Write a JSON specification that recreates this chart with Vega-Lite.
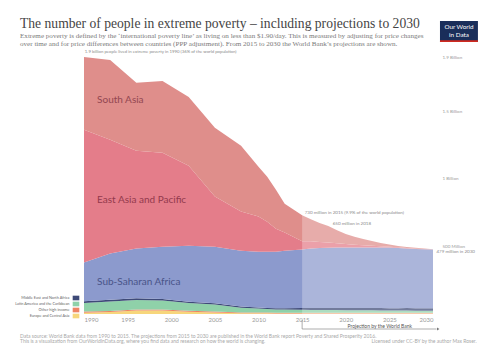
{
  "$schema": "https://vega.github.io/schema/vega-lite/v6.json",
  "autosize": "none",
  "width": 349,
  "height": 257,
  "padding": {"left": 84, "top": 57, "right": 47, "bottom": 46},
  "background": "white",
  "data": {"values": [{}]},
  "title": {
    "text": "The number of people in extreme poverty – including projections to 2030",
    "subtitle": [
      "Extreme poverty is defined by the ‘international poverty line’ as living on less than $1.90/day. This is measured by adjusting for price changes",
      "over time and for price differences between countries (PPP adjustment). From 2015 to 2030 the World Bank’s projections are shown."
    ],
    "anchor": "start",
    "frame": "group",
    "dx": -64,
    "offset": -26,
    "font": "Liberation Serif",
    "fontSize": 13.6,
    "fontWeight": "normal",
    "color": "#444444",
    "subtitleFont": "Liberation Serif",
    "subtitleFontSize": 7.1,
    "subtitleColor": "#7a7a7a",
    "subtitlePadding": 1.5,
    "subtitleLineHeight": 7.6
  },
  "config": {"view": {"stroke": null}},
  "datasets": {
    "poverty": [
      {"year": 1990, "ECA": 10, "OHI": 8, "LAC": 64, "MENA": 13, "SSA": 285, "EAP": 982, "SA": 538},
      {"year": 1993, "ECA": 15, "OHI": 8, "LAC": 69, "MENA": 13, "SSA": 342, "EAP": 841, "SA": 590},
      {"year": 1996, "ECA": 25, "OHI": 8, "LAC": 71, "MENA": 12, "SSA": 368, "EAP": 723, "SA": 502},
      {"year": 1999, "ECA": 25, "OHI": 8, "LAC": 66, "MENA": 11, "SSA": 388, "EAP": 694, "SA": 531},
      {"year": 2002, "ECA": 17, "OHI": 7, "LAC": 57, "MENA": 10, "SSA": 414, "EAP": 591, "SA": 509},
      {"year": 2005, "ECA": 12, "OHI": 7, "LAC": 52, "MENA": 9, "SSA": 418, "EAP": 370, "SA": 509},
      {"year": 2008, "ECA": 6, "OHI": 6, "LAC": 35, "MENA": 8, "SSA": 413, "EAP": 289, "SA": 486},
      {"year": 2010, "ECA": 5, "OHI": 6, "LAC": 30, "MENA": 7, "SSA": 413, "EAP": 259, "SA": 369},
      {"year": 2011, "ECA": 5, "OHI": 6, "LAC": 26, "MENA": 7, "SSA": 417, "EAP": 221, "SA": 332},
      {"year": 2012, "ECA": 4, "OHI": 6, "LAC": 24, "MENA": 8, "SSA": 419, "EAP": 170, "SA": 288},
      {"year": 2013, "ECA": 4, "OHI": 6, "LAC": 23, "MENA": 9, "SSA": 426, "EAP": 134, "SA": 214},
      {"year": 2015, "ECA": 4, "OHI": 6, "LAC": 21, "MENA": 14, "SSA": 431, "EAP": 62, "SA": 192},
      {"year": 2016, "ECA": 4, "OHI": 6, "LAC": 20, "MENA": 14, "SSA": 441, "EAP": 52, "SA": 163},
      {"year": 2017, "ECA": 4, "OHI": 6, "LAC": 20, "MENA": 15, "SSA": 443, "EAP": 44, "SA": 140},
      {"year": 2018, "ECA": 4, "OHI": 6, "LAC": 19, "MENA": 15, "SSA": 446, "EAP": 38, "SA": 122},
      {"year": 2019, "ECA": 4, "OHI": 6, "LAC": 19, "MENA": 16, "SSA": 446, "EAP": 32, "SA": 97},
      {"year": 2020, "ECA": 4, "OHI": 6, "LAC": 18, "MENA": 16, "SSA": 447, "EAP": 26, "SA": 75},
      {"year": 2021, "ECA": 4, "OHI": 6, "LAC": 18, "MENA": 17, "SSA": 446, "EAP": 21, "SA": 60},
      {"year": 2022, "ECA": 4, "OHI": 6, "LAC": 17, "MENA": 17, "SSA": 447, "EAP": 17, "SA": 46},
      {"year": 2023, "ECA": 4, "OHI": 6, "LAC": 17, "MENA": 17, "SSA": 447, "EAP": 13, "SA": 35},
      {"year": 2024, "ECA": 3, "OHI": 6, "LAC": 17, "MENA": 18, "SSA": 447, "EAP": 10, "SA": 24},
      {"year": 2025, "ECA": 3, "OHI": 6, "LAC": 16, "MENA": 18, "SSA": 448, "EAP": 7, "SA": 16},
      {"year": 2026, "ECA": 3, "OHI": 6, "LAC": 16, "MENA": 18, "SSA": 445, "EAP": 5, "SA": 10},
      {"year": 2027, "ECA": 3, "OHI": 6, "LAC": 16, "MENA": 19, "SSA": 440, "EAP": 4, "SA": 8},
      {"year": 2028, "ECA": 3, "OHI": 6, "LAC": 15, "MENA": 19, "SSA": 437, "EAP": 3, "SA": 6},
      {"year": 2029, "ECA": 3, "OHI": 6, "LAC": 15, "MENA": 19, "SSA": 435, "EAP": 2, "SA": 4},
      {"year": 2030, "ECA": 3, "OHI": 6, "LAC": 15, "MENA": 19, "SSA": 433, "EAP": 1, "SA": 2}
    ],
    "regions": [
      {"region": "ECA", "rank": 1},
      {"region": "OHI", "rank": 2},
      {"region": "LAC", "rank": 3},
      {"region": "MENA", "rank": 4},
      {"region": "SSA", "rank": 5},
      {"region": "EAP", "rank": 6},
      {"region": "SA", "rank": 7}
    ]
  },
  "layer": [
    {
      "data": {"name": "poverty"},
      "transform": [
        {"fold": ["ECA", "OHI", "LAC", "MENA", "SSA", "EAP", "SA"], "as": ["region", "value"]},
        {"lookup": "region", "from": {"data": {"name": "regions"}, "key": "region", "fields": ["rank"]}}
      ],
      "mark": {"type": "area", "interpolate": "linear"},
      "encoding": {
        "x": {
          "field": "year", "type": "quantitative",
          "scale": {"domain": [1990, 2030], "nice": false, "zero": false},
          "axis": {
            "orient": "bottom",
            "values": [1990, 1995, 2000, 2005, 2010, 2015, 2020, 2025, 2030],
            "format": "d", "title": null, "grid": false, "domain": false, "ticks": false,
            "labelFont": "Lato", "labelFontSize": 6, "labelColor": "#9a9a9a", "labelPadding": 2
          }
        },
        "y": {
          "field": "value", "type": "quantitative", "stack": "zero",
          "scale": {"domain": [0, 1900], "nice": false},
          "axis": {
            "orient": "right", "title": null,
            "values": [500, 1000, 1500, 1900],
            "labelExpr": "datum.value == 500 ? '500 Million' : datum.value == 1000 ? '1 Billion' : datum.value == 1500 ? '1.5 Billion' : '1.9 Billion'",
            "grid": false, "domain": false, "ticks": false,
            "labelFont": "Lato", "labelFontSize": 4.5, "labelColor": "#9a9a9a", "labelPadding": 9
          }
        },
        "color": {
          "field": "region", "type": "nominal",
          "scale": {
            "domain": ["ECA", "OHI", "LAC", "MENA", "SSA", "EAP", "SA"],
            "range": ["#f7d67b", "#ee8463", "#8fd1a9", "#3e4a78", "#8c9acd", "#e47d8a", "#df8e8b"]
          },
          "legend": {
            "values": ["MENA", "LAC", "OHI", "ECA"],
            "labelExpr": "datum.value == 'MENA' ? 'Middle East and North Africa' : datum.value == 'LAC' ? 'Latin America and the Caribbean' : datum.value == 'OHI' ? 'Other high income' : 'Europe and Central Asia'",
            "orient": "none", "legendX": -11.5, "legendY": 237.5,
            "title": null, "padding": 0,
            "symbolType": "M-1,-0.7H1V0.7H-1Z", "symbolSize": 44, "symbolStrokeWidth": 0,
            "labelAlign": "right", "labelOffset": -10,
            "labelFont": "Lato", "labelFontSize": 3.8, "labelColor": "#666666",
            "rowPadding": -0.9
          }
        },
        "order": {"field": "rank", "type": "quantitative"}
      }
    },
    {
      "mark": {"type": "rect", "color": "white", "opacity": 0.27},
      "encoding": {
        "x": {"datum": 2015}, "x2": {"datum": 2030},
        "y": {"datum": 0}, "y2": {"datum": 1900}
      }
    },
    {
      "mark": {"type": "text", "text": "South Asia", "font": "Lato", "fontSize": 10, "align": "left", "baseline": "middle", "color": "#8b3f4c", "opacity": 0.9},
      "encoding": {"x": {"datum": 1991.5}, "y": {"datum": 1582}}
    },
    {
      "mark": {"type": "text", "text": "East Asia and Pacific", "font": "Lato", "fontSize": 10, "align": "left", "baseline": "middle", "color": "#8b3347", "opacity": 0.9},
      "encoding": {"x": {"datum": 1991.5}, "y": {"datum": 843}}
    },
    {
      "mark": {"type": "text", "text": "Sub-Saharan Africa", "font": "Lato", "fontSize": 10, "align": "left", "baseline": "middle", "color": "#434d82", "opacity": 0.9},
      "encoding": {"x": {"datum": 1991.5}, "y": {"datum": 237}}
    },
    {
      "mark": {"type": "text", "text": "1.9 billion people lived in extreme poverty in 1990 (36% of the world population)", "font": "Lato", "fontSize": 4.3, "align": "left", "baseline": "middle", "color": "#8a8a8a"},
      "encoding": {"x": {"datum": 1990.1}, "y": {"datum": 1937}}
    },
    {
      "mark": {"type": "text", "text": "730 million in 2015 (9.9% of the world population)", "font": "Lato", "fontSize": 4.5, "align": "left", "baseline": "middle", "color": "#8a8a8a"},
      "encoding": {"x": {"datum": 2015.3}, "y": {"datum": 747}}
    },
    {
      "mark": {"type": "text", "text": "650 million in 2018", "font": "Lato", "fontSize": 4.5, "align": "left", "baseline": "middle", "color": "#8a8a8a"},
      "encoding": {"x": {"datum": 2018.5}, "y": {"datum": 665}}
    },
    {
      "mark": {"type": "text", "text": "479 million in 2030", "font": "Lato", "fontSize": 4.5, "align": "left", "baseline": "middle", "color": "#8a8a8a"},
      "encoding": {"x": {"datum": 2030.4}, "y": {"datum": 455}}
    },
    {
      "mark": {"type": "rule", "color": "#777777", "strokeWidth": 0.6},
      "encoding": {"x": {"datum": 2015}, "y": {"datum": -44}, "y2": {"datum": -111}}
    },
    {
      "mark": {"type": "rule", "color": "#777777", "strokeWidth": 0.6},
      "encoding": {"x": {"datum": 2015}, "x2": {"datum": 2030.4}, "y": {"datum": -111}}
    },
    {
      "mark": {"type": "point", "shape": "triangle-right", "filled": true, "color": "#777777", "size": 8, "opacity": 1},
      "encoding": {"x": {"datum": 2030.6}, "y": {"datum": -111}}
    },
    {
      "mark": {"type": "text", "text": "Projection by the World Bank", "font": "Lato", "fontSize": 5, "align": "center", "baseline": "middle", "color": "#555555"},
      "encoding": {"x": {"datum": 2023.9}, "y": {"datum": -89}}
    },
    {
      "mark": {"type": "text", "text": "Data source: World Bank data from 1990 to 2015. The projections from 2015 to 2030 are published in the World Bank report Poverty and Shared Prosperity 2016.", "font": "Lato", "fontSize": 5, "align": "left", "baseline": "middle", "color": "#a8a8a8"},
      "encoding": {"x": {"datum": 1982.67}, "y": {"datum": -163}}
    },
    {
      "mark": {"type": "text", "text": "This is a visualization from OurWorldInData.org, where you find data and research on how the world is changing.", "font": "Lato", "fontSize": 5, "align": "left", "baseline": "middle", "color": "#a8a8a8"},
      "encoding": {"x": {"datum": 1982.67}, "y": {"datum": -200}}
    },
    {
      "mark": {"type": "text", "text": "Licensed under CC-BY by the author Max Roser.", "font": "Lato", "fontSize": 5, "align": "right", "baseline": "middle", "color": "#a8a8a8"},
      "encoding": {"x": {"datum": 2035.0}, "y": {"datum": -200}}
    },
    {
      "mark": {"type": "rect", "color": "#1a2e5a"},
      "encoding": {"x": {"datum": 2030.8}, "x2": {"datum": 2035.15}, "y": {"datum": 2011}, "y2": {"datum": 2166}}
    },
    {
      "mark": {"type": "rect", "color": "#d02a20"},
      "encoding": {"x": {"datum": 2030.8}, "x2": {"datum": 2035.15}, "y": {"datum": 2011}, "y2": {"datum": 2024}}
    },
    {
      "mark": {"type": "text", "text": "Our World", "font": "Lato", "fontSize": 6.3, "align": "center", "baseline": "middle", "color": "white"},
      "encoding": {"x": {"datum": 2032.98}, "y": {"datum": 2122}}
    },
    {
      "mark": {"type": "text", "text": "in Data", "font": "Lato", "fontSize": 6.3, "align": "center", "baseline": "middle", "color": "white"},
      "encoding": {"x": {"datum": 2032.98}, "y": {"datum": 2063}}
    }
  ]
}
